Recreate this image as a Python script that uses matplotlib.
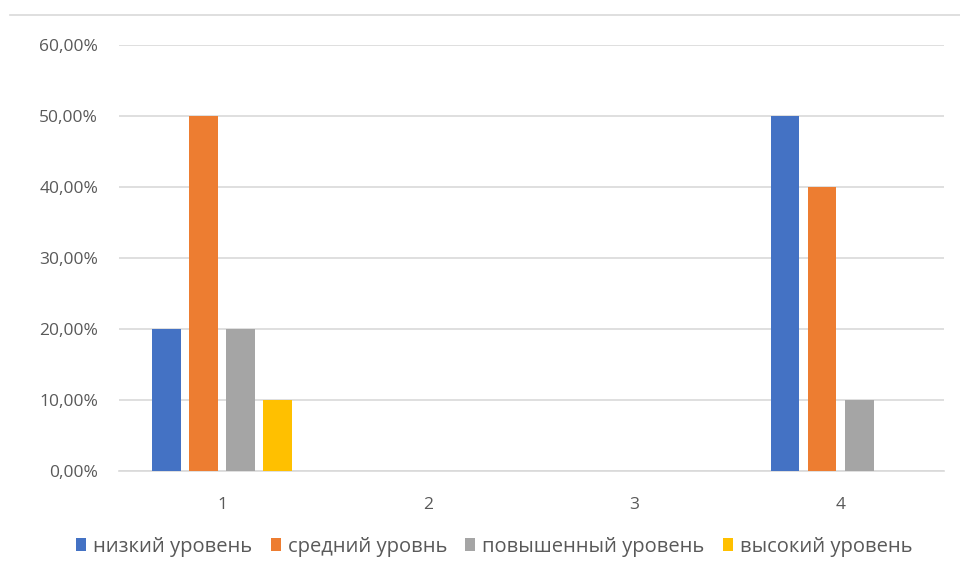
import numpy as np
import matplotlib.pyplot as plt
from matplotlib.lines import Line2D

# data
categories = ['1', '2', '3', '4']
series_names = ['низкий уровень', 'средний уровнь', 'повышенный уровень', 'высокий уровень']
low = [20, 0, 0, 50]
mid = [50, 0, 0, 40]
high = [20, 0, 0, 10]
top = [10, 0, 0, 0]
colors = ['#4472c4', '#ed7d31', '#a5a5a5', '#ffc000']

plt.rcParams['font.family'] = ['Open Sans', 'DejaVu Sans']

fig = plt.figure(figsize=(9.6, 5.62), dpi=100)
ax = fig.add_axes([0.124, 0.162, 0.859, 0.758])

x = np.arange(len(categories))
step = 0.18
width = 0.14
for i, (vals, name) in enumerate(zip([low, mid, high, top], series_names)):
    ax.bar(x + (i - 1.5) * step, vals, width, color=colors[i], label=name, zorder=3)

ax.set_xlim(-0.5, 3.5)
ax.set_ylim(0, 60)
ax.set_yticks(np.arange(0, 61, 10))
ax.set_yticklabels(['%d,00%%' % v for v in range(0, 61, 10)])
ax.set_xticks(x)
ax.set_xticklabels(categories)
ax.tick_params(length=0, labelsize=12.5, labelcolor='#595959')
ax.tick_params(axis='y', pad=15)
ax.tick_params(axis='x', pad=19)
ax.grid(axis='y', color='#d9d9d9', linewidth=1.2, zorder=0)
for s in ['top', 'right', 'left']:
    ax.spines[s].set_visible(False)
ax.spines['bottom'].set_color('#d9d9d9')
ax.spines['bottom'].set_linewidth(1.2)

# cut-off chart border at the top
fig.add_artist(Line2D([10 / 960, 1], [1 - 15 / 562] * 2, color='#d9d9d9', linewidth=1.2))

fig.legend(loc='center', bbox_to_anchor=(0.515, 0.027), ncol=4, frameon=False,
           fontsize=14.5, handlelength=0.5, handleheight=0.6, handletextpad=0.35,
           columnspacing=0.9, labelcolor='#595959', borderpad=0.1)

fig.savefig('out.png', dpi=100)
